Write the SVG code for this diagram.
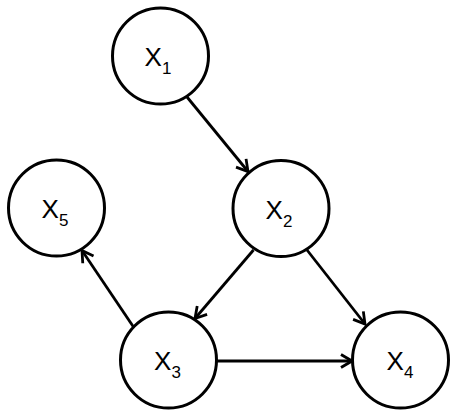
<svg xmlns="http://www.w3.org/2000/svg" width="451" height="415" viewBox="0 0 451 415">
<style>
.node circle{fill:#fff;stroke:#000;stroke-width:3}
.node text{font-family:"Liberation Sans",Arial,sans-serif;font-size:26px;fill:#000;text-anchor:middle}
.sub{font-size:17px}
.edge{stroke:#000;stroke-width:2.8;fill:none;marker-end:url(#arr)}
</style>
<defs>
<marker id="arr" markerUnits="userSpaceOnUse" markerWidth="16" markerHeight="16" viewBox="0 0 16 16" refX="14" refY="8" orient="auto">
<path d="M3,1.5 L14,8 L3,14.5" fill="none" stroke="#000" stroke-width="2.8"/>
</marker>
</defs>
<g id="edges">
<line class="edge" x1="187" y1="97" x2="248" y2="171.5"/>
<line class="edge" x1="253.5" y1="250" x2="195" y2="318.5"/>
<line class="edge" x1="307" y1="250" x2="365" y2="324"/>
<line class="edge" x1="216" y1="361" x2="352" y2="361"/>
<line class="edge" x1="133.5" y1="327" x2="82" y2="250.5"/>
</g>
<g id="X1" class="node"><circle cx="160.5" cy="56" r="48"/><text x="158" y="66">X<tspan class="sub" dy="8">1</tspan></text></g>
<g id="X2" class="node"><circle cx="281" cy="208.5" r="48"/><text x="279" y="218.5">X<tspan class="sub" dy="8">2</tspan></text></g>
<g id="X3" class="node"><circle cx="168.5" cy="360" r="48"/><text x="167.5" y="370">X<tspan class="sub" dy="8">3</tspan></text></g>
<g id="X4" class="node"><circle cx="400.5" cy="360" r="48"/><text x="400" y="370">X<tspan class="sub" dy="8">4</tspan></text></g>
<g id="X5" class="node"><circle cx="56.5" cy="208" r="48"/><text x="55" y="218">X<tspan class="sub" dy="8">5</tspan></text></g>
</svg>
